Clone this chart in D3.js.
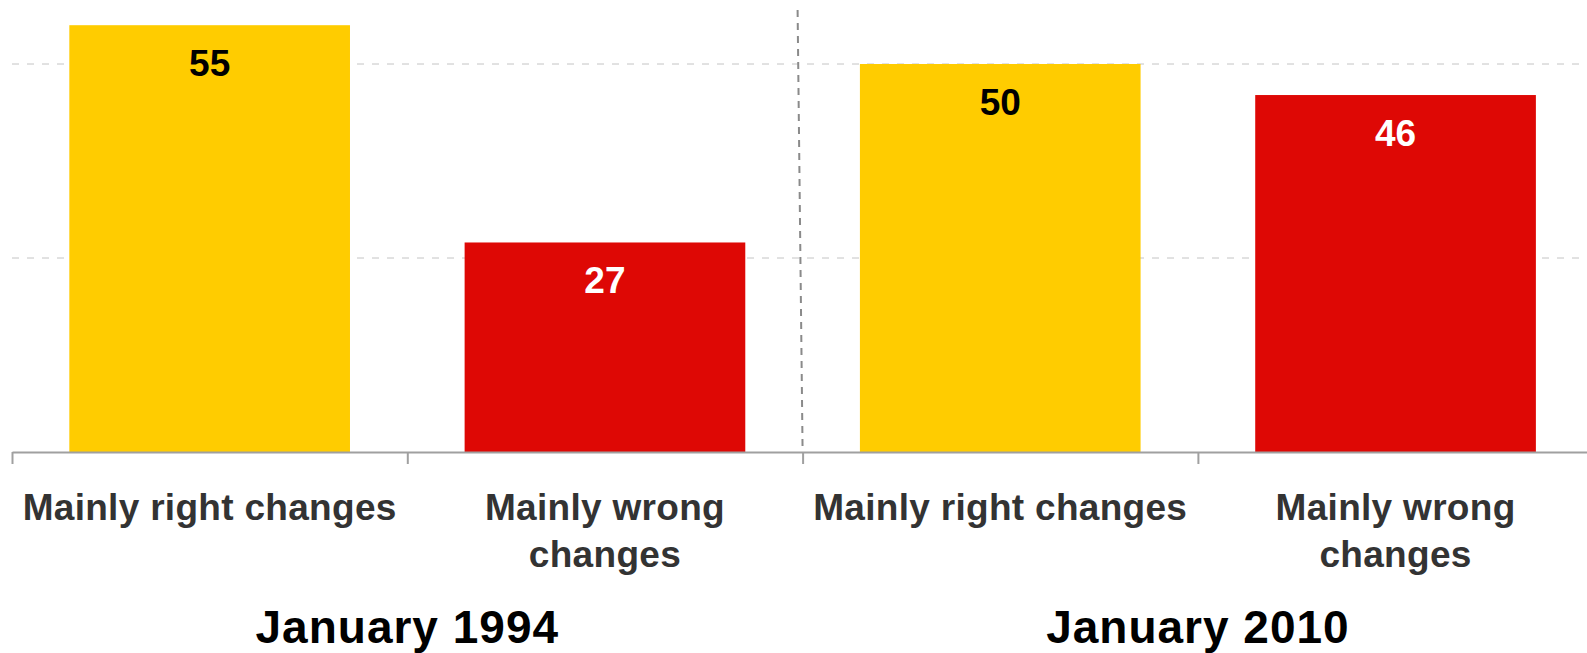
<!DOCTYPE html>
<html>
<head>
<meta charset="utf-8">
<script src="https://cdn.jsdelivr.net/npm/d3@7"></script>
<style>
  body { margin: 0; background: #fff; }
  text { font-family: "Liberation Sans", Arial, sans-serif; font-weight: bold; }
</style>
</head>
<body>
<div id="chart"></div>
<script>
(function(){
  var groups = ['January 1994', 'January 2010'];
  var categories = ['Mainly right changes', 'Mainly wrong changes'];
  var values = [55, 27, 50, 46];
  var gridTicks = [25, 50];
  var barColors = ['#ffcc00', '#de0805'];
  var valueColors = ['#000', '#fff'];

  var width = 1587,
      height = 653;

  var svg = d3.select('#chart')
    .append('svg')
    .attr('width', width)
    .attr('height', height)

  var data = values.map(function(v, i){
    return { key: i, group: Math.floor(i / 2), cat: i % 2, value: v }
  })

  // left edge 12, each cell ~395px wide, 4 cells (last one runs off the right side)
  var x = d3.scaleBand()
    .domain(data.map(d => d.key))
    .range([12, 12 + 4 * 395.3])
    .paddingInner(0.29)
    .paddingOuter(0.145)

  var y = d3.scaleLinear()
    .domain([0, 50])
    .range([452, 64])

  var cell = d3.scaleLinear()
    .domain([0, 4])
    .range([12, 12 + 4 * x.step()])

  // grid lines
  svg.append('g')
    .selectAll('line')
    .data(gridTicks)
    .enter().append('line')
    .attr('x1', cell(0))
    .attr('x2', width)
    .attr('y1', d => y(d))
    .attr('y2', d => y(d))
    .attr('stroke', '#c4c4c4')
    .attr('stroke-width', 1)
    .attr('stroke-dasharray', '7,8')

  // divider between the two surveys
  svg.append('line')
    .attr('x1', cell(2) - 5)
    .attr('x2', cell(2))
    .attr('y1', 10)
    .attr('y2', y(0))
    .attr('stroke', '#8a8a8a')
    .attr('stroke-width', 2)
    .attr('stroke-dasharray', '7,6')

  svg.append('g')
    .selectAll('rect')
    .data(data)
    .enter().append('rect')
    .attr('x', d => x(d.key))
    .attr('width', x.bandwidth())
    .attr('y', d => y(d.value))
    .attr('height', d => y(0) - y(d.value))
    .attr('fill', d => barColors[d.cat])

  svg.append('g')
    .selectAll('text')
    .data(data)
    .enter().append('text')
    .attr('x', d => x(d.key) + x.bandwidth() / 2)
    .attr('y', d => y(d.value) + 51)
    .attr('text-anchor', 'middle')
    .attr('font-size', 37)
    .attr('fill', d => valueColors[d.cat])
    .text(d => d.value)

  // axis with ticks on the cell borders
  var axis = svg.append('g')
    .attr('transform', 'translate(0,' + y(0) + ')')
    .call(d3.axisBottom(cell).tickValues([0, 1, 2, 3, 4]).tickFormat('').tickSize(12).tickSizeOuter(0))
  axis.select('.domain').attr('stroke', '#a0a0a0').attr('stroke-width', 2)
  axis.selectAll('.tick line').attr('stroke', '#a0a0a0').attr('stroke-width', 2)

  // category labels, wrapped to the cell width
  var catLabels = svg.append('g')
    .selectAll('text')
    .data(data)
    .enter().append('text')
    .attr('x', d => x(d.key) + x.bandwidth() / 2)
    .attr('y', 520)
    .attr('text-anchor', 'middle')
    .attr('font-size', 37)
    .attr('letter-spacing', 0.3)
    .attr('fill', '#333')
    .text(d => categories[d.cat])

  catLabels.each(function(){
    var t = d3.select(this),
        words = t.text().split(' '),
        cx = t.attr('x'),
        line = [],
        tspan = t.text(null).append('tspan').attr('x', cx).attr('dy', 0)
    words.forEach(function(w){
      line.push(w)
      tspan.text(line.join(' '))
      if (tspan.node().getComputedTextLength() > x.step() - 10 && line.length > 1) {
        line.pop()
        tspan.text(line.join(' '))
        line = [w]
        tspan = t.append('tspan').attr('x', cx).attr('dy', 47).text(w)
      }
    })
  })

  svg.append('g')
    .selectAll('text')
    .data(groups)
    .enter().append('text')
    .attr('x', (d, i) => cell(i * 2 + 1))
    .attr('y', 643)
    .attr('text-anchor', 'middle')
    .attr('font-size', 46)
    .attr('letter-spacing', 1)
    .attr('fill', '#000')
    .text(d => d)
})()
</script>
</body>
</html>
